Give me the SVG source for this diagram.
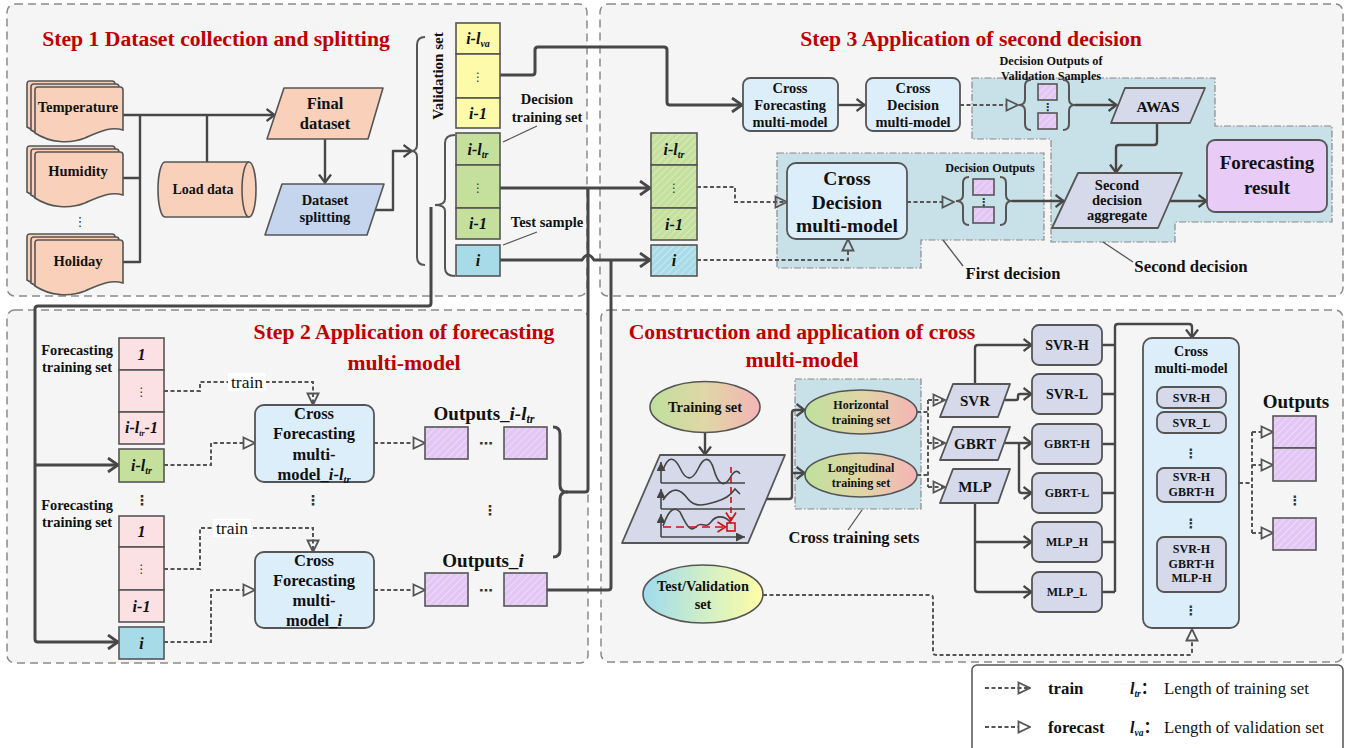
<svg xmlns="http://www.w3.org/2000/svg" width="1352" height="748" viewBox="0 0 1352 748">
<style>
.pn{fill:#f5f5f5;stroke:#8a8a8a;stroke-width:1.5;stroke-dasharray:8 5}
.t{font-family:"Liberation Serif",serif;font-weight:bold;fill:#111;text-anchor:middle}
.r{font-family:"Liberation Serif",serif;fill:#111}
.ttl{font-family:"Liberation Serif",serif;font-weight:bold;fill:#c00000;font-size:21.7px;text-anchor:middle}
.ci{font-family:"Liberation Serif",serif;font-weight:bold;font-style:italic;fill:#111;text-anchor:middle;font-size:16px}
.dt{font-family:"DejaVu Sans",sans-serif;fill:#333;text-anchor:middle}
.ln{fill:none;stroke:#474747;stroke-width:3;stroke-linejoin:round}
.ln2{fill:none;stroke:#474747;stroke-width:2.4;stroke-linejoin:round}
.ds{fill:none;stroke:#555;stroke-width:2;stroke-dasharray:4 2.5}
.bx{stroke:#555;stroke-width:1.6}
.rg{fill:#c8e0e7;stroke:#8a8a8a;stroke-width:1.2;stroke-dasharray:7 2 1.5 2}
.br{fill:none;stroke:#555;stroke-width:2}
.ld{fill:none;stroke:#555;stroke-width:1.3}
.peach{fill:#f9d1ba;stroke:#555;stroke-width:1.6}
.lav{fill:#d5d9e9;stroke:#555;stroke-width:1.8;stroke-linejoin:round}
.lb{fill:#ddeefb;stroke:#555;stroke-width:1.8}
</style>
<defs>
<marker id="ch" viewBox="0 0 12 16" refX="11" refY="8" markerWidth="12" markerHeight="16" markerUnits="userSpaceOnUse" orient="auto"><path d="M1,1 L11,8 L1,15" fill="none" stroke="#474747" stroke-width="2.8"/></marker>
<marker id="chs" viewBox="0 0 10 14" refX="9.5" refY="7" markerWidth="10" markerHeight="14" markerUnits="userSpaceOnUse" orient="auto"><path d="M1,1 L9,7 L1,13" fill="none" stroke="#474747" stroke-width="2.3"/></marker>
<marker id="fc" viewBox="0 0 14 14" refX="13" refY="7" markerWidth="14" markerHeight="14" markerUnits="userSpaceOnUse" orient="auto"><path d="M1.5,1.5 L13,7 L1.5,12.5 Z" fill="#f5f5f5" stroke="#555" stroke-width="1.8"/></marker>
<marker id="fcb" viewBox="0 0 14 14" refX="13" refY="7" markerWidth="14" markerHeight="14" markerUnits="userSpaceOnUse" orient="auto"><path d="M1.5,1.5 L13,7 L1.5,12.5 Z" fill="#c8e0e7" stroke="#555" stroke-width="1.8"/></marker>
<marker id="fcw" viewBox="0 0 14 14" refX="13" refY="7" markerWidth="14" markerHeight="14" markerUnits="userSpaceOnUse" orient="auto"><path d="M1.5,1.5 L13,7 L1.5,12.5 Z" fill="#fff" stroke="#555" stroke-width="1.8"/></marker>
<marker id="tr" viewBox="0 0 14 14" refX="13" refY="7" markerWidth="14" markerHeight="14" markerUnits="userSpaceOnUse" orient="auto"><path d="M1.5,1.5 L13,7 L1.5,12.5 Z" fill="none" stroke="#555" stroke-width="1.8"/></marker>
<marker id="ax" viewBox="0 0 10 10" refX="10" refY="5" markerWidth="10" markerHeight="9" markerUnits="userSpaceOnUse" orient="auto"><path d="M0,0 L10,5 L0,10 Z" fill="#444"/></marker>
<marker id="rch" viewBox="0 0 10 12" refX="9.5" refY="6" markerWidth="10" markerHeight="12" markerUnits="userSpaceOnUse" orient="auto"><path d="M1,1 L9,6 L1,11" fill="none" stroke="#d01010" stroke-width="1.6"/></marker>
<pattern id="hp" width="5" height="5" patternUnits="userSpaceOnUse" patternTransform="rotate(45)"><rect width="5" height="5" fill="#e2c6f3"/><line x1="0" y1="0" x2="0" y2="5" stroke="#f3e6fa" stroke-width="1.4"/></pattern>
<pattern id="hg" width="5" height="5" patternUnits="userSpaceOnUse" patternTransform="rotate(45)"><rect width="5" height="5" fill="#c4e09c"/><line x1="0" y1="0" x2="0" y2="5" stroke="#e3f0cf" stroke-width="1.4"/></pattern>
<pattern id="hc" width="5" height="5" patternUnits="userSpaceOnUse" patternTransform="rotate(45)"><rect width="5" height="5" fill="#a8dbe8"/><line x1="0" y1="0" x2="0" y2="5" stroke="#d3eef5" stroke-width="1.4"/></pattern>
<linearGradient id="gt" x1="0" y1="0" x2="1" y2="0"><stop offset="0" stop-color="#bfe09c"/><stop offset="0.5" stop-color="#e0d6a6"/><stop offset="1" stop-color="#f5b4b6"/></linearGradient>
<linearGradient id="gv" x1="0" y1="0" x2="1" y2="0"><stop offset="0" stop-color="#9fdaee"/><stop offset="0.5" stop-color="#cfeec8"/><stop offset="1" stop-color="#fffda6"/></linearGradient>
<path id="doc" d="M3,0 L85,0 Q88,0 88,3 L88,43 C75,39 64,45 50,51 C35,57 15,56 0,46 L0,3 Q0,0 3,0 Z"/>
</defs>

<!-- panels -->
<rect class="pn" x="7" y="4" width="580" height="292" rx="8"/>
<rect class="pn" x="600" y="4" width="743" height="292" rx="8"/>
<rect class="pn" x="7" y="310" width="581" height="353" rx="8"/>
<rect class="pn" x="601" y="310" width="742" height="352" rx="8"/>

<text class="ttl" x="216" y="46">Step 1 Dataset collection and splitting</text>
<text class="ttl" x="971" y="46">Step 3 Application of second decision</text>
<text class="ttl" x="404" y="339">Step 2 Application of forecasting</text>
<text class="ttl" x="404" y="370">multi-model</text>
<text class="ttl" x="802" y="339">Construction and application of cross</text>
<text class="ttl" x="802" y="367">multi-model</text>

<!-- regions -->
<polygon class="rg" points="777,153 1044,153 1044,240 921,240 921,268 777,268"/>
<polygon class="rg" points="972,78 1215,78 1215,126 1332,126 1332,222 1175,222 1175,242 1051,242 1051,139 972,139"/>
<rect class="rg" x="795" y="379" width="126" height="130"/>

<!-- connectors -->
<g id="connectors">
<path class="ln2" d="M123,115 L275,115" marker-end="url(#chs)"/>
<path class="ln2" d="M140,115 L140,262 L123,262 M123,178 L140,178 M207,115 L207,162"/>
<path class="ln2" d="M325,139 L325,183" marker-end="url(#chs)"/>
<path class="ln2" d="M375,210 L393,210 L393,151 L412,151" marker-end="url(#chs)"/>
<path class="ln" d="M431,207 L431,303 Q431,306 428,306 L38,306 Q35,306 35,309 L35,639 Q35,642 38,642 L118,642" marker-end="url(#ch)"/>
<path class="ln" d="M35,465 L118,465" marker-end="url(#ch)"/>
<path class="ln" d="M500,75 L532,75 Q535,75 535,72 L535,50 Q535,47 538,47 L664,47 Q667,47 667,50 L667,102 Q667,105 670,105 L742,105" marker-end="url(#ch)"/>
<path class="ln" d="M500,188 L650,188" marker-end="url(#ch)"/>
<path class="ln" d="M566,492 L585,492 Q588,492 588,489 L588,188"/>
<path class="ln" d="M500,260 L582,260 Q588,250 594,260 L650,260" marker-end="url(#ch)"/>
<path class="ln" d="M547,590 L608,590 Q611,590 611,587 L611,260"/>
<path class="ln2" d="M838,105 L865,105" marker-end="url(#chs)"/>
<path class="ds" d="M960,105 L1018,105" marker-end="url(#fcb)"/>
<path class="ln2" d="M1075,105 L1117,105" marker-end="url(#chs)"/>
<path class="ln2" d="M1157,123 L1157,142 Q1157,145 1154,145 L1119,145 Q1116,145 1116,148 L1116,173" marker-end="url(#chs)"/>
<path class="ln2" d="M1170,201 L1207,201" marker-end="url(#chs)"/>
<path class="ln2" d="M1012,201 L1064,201" marker-end="url(#chs)"/>
<path class="ds" d="M697,187 L735,187 L735,202 L787,202" marker-end="url(#tr)"/>
<path class="ds" d="M697,260 L848,260 L848,239" marker-end="url(#fcb)"/>
<path class="ds" d="M907,202 L954,202" marker-end="url(#fcb)"/>
<!-- step 2 dashed -->
<path class="ds" d="M164,391 L200,391 L200,382 L313,382 L313,405" marker-end="url(#tr)"/>
<path class="ds" d="M164,465 L211,465 L211,443 L255,443" marker-end="url(#fc)"/>
<path class="ds" d="M164,569 L200,569 L200,528 L313,528 L313,552" marker-end="url(#tr)"/>
<path class="ds" d="M164,642 L211,642 L211,590 L255,590" marker-end="url(#fc)"/>
<path class="ds" d="M374,443 L425,443" marker-end="url(#fc)"/>
<path class="ds" d="M374,590 L425,590" marker-end="url(#fc)"/>
<!-- construction -->
<path class="ln2" d="M705,433 L705,455" marker-end="url(#chs)"/>
<path class="ln2" d="M767,499 L789,499 Q792,499 792,496 L792,413 Q792,410 795,410 L805,410" marker-end="url(#chs)"/>
<path class="ln2" d="M792,473 L805,473" marker-end="url(#chs)"/>
<path class="ds" d="M917,412 L928,412 M917,475 L928,475 M928,400 L928,487"/>
<path class="ds" d="M928,400 L945,400" marker-end="url(#tr)"/>
<path class="ds" d="M928,443 L945,443" marker-end="url(#tr)"/>
<path class="ds" d="M928,487 L945,487" marker-end="url(#tr)"/>
<path class="ln2" d="M975,384 L975,348 Q975,345 978,345 L1032,345" marker-end="url(#chs)"/>
<path class="ln2" d="M1005,400 L1016,400 Q1018,400 1018,398 L1018,396 Q1018,394 1020,394 L1032,394" marker-end="url(#chs)"/>
<path class="ln2" d="M1005,443 L1032,443" marker-end="url(#chs)"/>
<path class="ln2" d="M1019,443 L1019,490 Q1019,493 1022,493 L1032,493" marker-end="url(#chs)"/>
<path class="ln2" d="M975,503 L975,589 Q975,592 978,592 L1032,592" marker-end="url(#chs)"/>
<path class="ln2" d="M975,542 L1032,542" marker-end="url(#chs)"/>
<path class="ln2" d="M1102,345 L1115,345 M1102,394 L1115,394 M1102,444 L1115,444 M1102,493 L1115,493 M1102,542 L1115,542 M1102,592 L1115,592"/>
<path class="ln2" d="M1115,592 L1115,327 Q1115,324 1118,324 L1189,324 Q1192,324 1192,327 L1192,338" marker-end="url(#chs)"/>
<path class="ds" d="M1239,483 L1252,483 M1252,432 L1252,533"/>
<path class="ds" d="M1252,432 L1273,432" marker-end="url(#fc)"/>
<path class="ds" d="M1252,465 L1273,465" marker-end="url(#fc)"/>
<path class="ds" d="M1252,533 L1273,533" marker-end="url(#fc)"/>
<path class="ds" d="M763,595 L930,595 Q933,595 933,598 L933,652 Q933,655 936,655 L1189,655 Q1192,655 1192,652 L1192,629" marker-end="url(#fc)"/>
</g>

<!-- Step 1 nodes -->
<g id="temperature">
<use href="#doc" x="27" y="81" class="peach"/><use href="#doc" x="31" y="84" class="peach"/><use href="#doc" x="35" y="87" class="peach"/>
<text class="t" x="78" y="112" font-size="14.5">Temperature</text>
</g>
<g id="humidity">
<use href="#doc" x="27" y="146" class="peach"/><use href="#doc" x="31" y="149" class="peach"/><use href="#doc" x="35" y="152" class="peach"/>
<text class="t" x="78" y="176" font-size="14.5">Humidity</text>
</g>
<text class="dt" x="80" y="226" font-size="13">⋮</text>
<g id="holiday">
<use href="#doc" x="27" y="234" class="peach"/><use href="#doc" x="31" y="237" class="peach"/><use href="#doc" x="35" y="240" class="peach"/>
<text class="t" x="78" y="266" font-size="14.5">Holiday</text>
</g>
<g id="loaddata">
<path class="peach" d="M165,162 L249,162 A7,27.5 0 0 1 249,217 L165,217 A7,27.5 0 0 1 165,162 Z"/>
<path class="peach" fill="none" d="M249,162 A7,27.5 0 0 0 249,217"/>
<text class="t" x="203" y="194" font-size="14">Load data</text>
</g>
<g id="finaldataset">
<polygon class="peach" stroke-linejoin="round" points="284,88 383,88 368,139 267,139"/>
<text class="t" x="325" y="109" font-size="16.5">Final</text>
<text class="t" x="325" y="129" font-size="16.5">dataset</text>
</g>
<g id="datasetsplitting">
<polygon fill="#c5d5ee" stroke="#555" stroke-width="1.6" stroke-linejoin="round" points="282,184 384,184 367,235 265,235"/>
<text class="t" x="325" y="205" font-size="14.5">Dataset</text>
<text class="t" x="325" y="222" font-size="14.5">splitting</text>
</g>

<!-- sets column -->
<g id="validationset">
<rect class="bx" fill="#fdfaa9" x="456" y="23" width="44" height="31"/>
<rect class="bx" fill="#fdfaa9" x="456" y="54" width="44" height="44"/>
<rect class="bx" fill="#fdfaa9" x="456" y="98" width="44" height="30"/>
<text class="ci" x="478" y="44">i-l<tspan font-size="10" dy="3">va</tspan></text>
<text class="dt" x="478" y="81" font-size="12">⋮</text>
<text class="ci" x="478" y="119">i-1</text>
<path class="br" d="M425,37 Q417,37 417,45 L417,145 Q417,151 411,151 Q417,151 417,157 L417,257 Q417,265 425,265"/>
<text class="t" transform="translate(443,76) rotate(-90)" font-size="15">Validation set</text>
</g>
<g id="decisiontrainingset">
<rect class="bx" fill="#c4e09c" x="456" y="133" width="44" height="32"/>
<rect class="bx" fill="#c4e09c" x="456" y="165" width="44" height="43"/>
<rect class="bx" fill="#c4e09c" x="456" y="208" width="44" height="31"/>
<text class="ci" x="478" y="155">i-l<tspan font-size="10" dy="3">tr</tspan></text>
<text class="dt" x="478" y="192" font-size="12">⋮</text>
<text class="ci" x="478" y="229">i-1</text>
<path class="br" d="M455,135 Q445,135 445,143 L445,199 Q445,205 435,205 Q445,205 445,211 L445,268 Q445,276 455,276"/>
<text class="t" x="547" y="104" font-size="14.5">Decision</text>
<text class="t" x="547" y="122" font-size="14.5">training set</text>
<path class="ld" d="M503,142 L537,126"/>
</g>
<g id="testsample">
<rect class="bx" fill="#a8dbe8" x="456" y="245" width="44" height="31"/>
<text class="ci" x="478" y="266" font-size="17">i</text>
<text class="t" x="547" y="227" font-size="14.5">Test sample</text>
<path class="ld" d="M503,245 L537,232"/>
</g>

<!-- Step 3 -->
<g id="hatchedsets">
<rect class="bx" fill="url(#hg)" x="651" y="133" width="46" height="32"/>
<rect class="bx" fill="url(#hg)" x="651" y="165" width="46" height="43"/>
<rect class="bx" fill="url(#hg)" x="651" y="208" width="46" height="32"/>
<rect class="bx" fill="url(#hc)" x="651" y="245" width="46" height="31"/>
<text class="ci" x="674" y="155">i-l<tspan font-size="10" dy="3">tr</tspan></text>
<text class="dt" x="674" y="192" font-size="12">⋮</text>
<text class="ci" x="674" y="230">i-1</text>
<text class="ci" x="674" y="266" font-size="17">i</text>
</g>
<g id="crossforecasting3">
<rect class="lb" x="743" y="78" width="95" height="53" rx="7"/>
<text class="t" x="790" y="93" font-size="14.4">Cross</text>
<text class="t" x="790" y="110" font-size="14.4">Forecasting</text>
<text class="t" x="790" y="127" font-size="14.4">multi-model</text>
</g>
<g id="crossdecision3">
<rect class="lb" x="866" y="78" width="94" height="53" rx="7"/>
<text class="t" x="913" y="93" font-size="14.4">Cross</text>
<text class="t" x="913" y="110" font-size="14.4">Decision</text>
<text class="t" x="913" y="127" font-size="14.4">multi-model</text>
</g>
<g id="validationoutputs">
<text class="t" x="1051" y="65" font-size="12.2">Decision Outputs of</text>
<text class="t" x="1051" y="80" font-size="12.2">Validation Samples</text>
<path class="br" d="M1031,80 Q1025,80 1025,86 L1025,99 Q1025,105 1019,105 Q1025,105 1025,111 L1025,124 Q1025,130 1031,130"/>
<rect class="bx" fill="url(#hp)" x="1038" y="84" width="19" height="16"/>
<rect class="bx" fill="url(#hp)" x="1038" y="113" width="19" height="16"/>
<text class="dt" x="1047.5" y="111" font-size="11" font-weight="bold">⋮</text>
<path class="br" d="M1063,80 Q1069,80 1069,86 L1069,99 Q1069,105 1075,105 Q1069,105 1069,111 L1069,124 Q1069,130 1063,130"/>
</g>
<g id="awas">
<polygon class="lav" points="1125,88 1205,88 1190,123 1111,123"/>
<text class="t" x="1158" y="112" font-size="15.5">AWAS</text>
</g>
<g id="crossdecisionbig">
<rect class="lb" x="787" y="163" width="120" height="76" rx="9"/>
<text class="t" x="847" y="185" font-size="19.5">Cross</text>
<text class="t" x="847" y="209" font-size="19.5">Decision</text>
<text class="t" x="847" y="232" font-size="19.5">multi-model</text>
</g>
<g id="decisionoutputs">
<text class="t" x="990" y="172" font-size="12.2">Decision Outputs</text>
<path class="br" d="M969,177 Q963,177 963,183 L963,195 Q963,201 956,201 Q963,201 963,207 L963,219 Q963,225 969,225"/>
<rect class="bx" fill="url(#hp)" x="973" y="179" width="21" height="16"/>
<rect class="bx" fill="url(#hp)" x="973" y="207" width="21" height="16"/>
<text class="dt" x="983.5" y="206" font-size="11" font-weight="bold">⋮</text>
<path class="br" d="M1000,177 Q1006,177 1006,183 L1006,195 Q1006,201 1012,201 Q1006,201 1006,207 L1006,219 Q1006,225 1000,225"/>
</g>
<g id="secondaggregate">
<polygon class="lav" points="1078,173 1182,173 1158,228 1052,228"/>
<text class="t" x="1117" y="190" font-size="14.5">Second</text>
<text class="t" x="1117" y="205" font-size="14.5">decision</text>
<text class="t" x="1117" y="220" font-size="14.5">aggregate</text>
</g>
<g id="forecastingresult">
<rect fill="#e8cbf7" stroke="#555" stroke-width="1.8" x="1207" y="140" width="120" height="72" rx="8"/>
<text class="t" x="1267" y="169" font-size="19">Forecasting</text>
<text class="t" x="1267" y="194" font-size="19">result</text>
</g>
<g id="labels3">
<path class="ld" d="M943,240 L963,266"/>
<text class="t" x="1013" y="279" font-size="16.5">First decision</text>
<path class="ld" d="M1103,242 L1133,262"/>
<text class="t" x="1191" y="272" font-size="16.8">Second decision</text>
</g>

<!-- Step 2 -->
<g id="ftset1">
<text class="t" x="77" y="355" font-size="14.4">Forecasting</text>
<text class="t" x="77" y="372" font-size="14.4">training set</text>
<rect class="bx" fill="#fbe0e4" x="119" y="338" width="45" height="32"/>
<rect class="bx" fill="#fbe0e4" x="119" y="370" width="45" height="42"/>
<rect class="bx" fill="#fbe0e4" x="119" y="412" width="45" height="32"/>
<text class="ci" x="141.5" y="360">1</text>
<text class="dt" x="141.5" y="396" font-size="12">⋮</text>
<text class="ci" x="141.5" y="433" font-size="13">i-l<tspan font-size="8" dy="3">tr</tspan><tspan dy="-3">-1</tspan></text>
</g>
<g id="cell_iltr">
<rect class="bx" fill="#c4e09c" x="119" y="449" width="45" height="33"/>
<text class="ci" x="141.5" y="471">i-l<tspan font-size="10" dy="3">tr</tspan></text>
</g>
<text class="dt" x="142" y="505" font-size="14" font-weight="bold">⋮</text>
<g id="ftset2">
<text class="t" x="77" y="510" font-size="14.4">Forecasting</text>
<text class="t" x="77" y="527" font-size="14.4">training set</text>
<rect class="bx" fill="#fbe0e4" x="119" y="516" width="45" height="31"/>
<rect class="bx" fill="#fbe0e4" x="119" y="547" width="45" height="43"/>
<rect class="bx" fill="#fbe0e4" x="119" y="590" width="45" height="32"/>
<text class="ci" x="141.5" y="537">1</text>
<text class="dt" x="141.5" y="573" font-size="12">⋮</text>
<text class="ci" x="141.5" y="612" font-size="14">i-1</text>
</g>
<g id="cell_i">
<rect class="bx" fill="#a8dbe8" x="119" y="627" width="45" height="32"/>
<text class="ci" x="141.5" y="649" font-size="17">i</text>
</g>
<g id="trainlabels">
<rect x="228" y="373" width="38" height="18" fill="#fff"/>
<text class="r" x="247" y="388" font-size="17.5" text-anchor="middle">train</text>
<rect x="213" y="519" width="38" height="18" fill="#fff"/>
<text class="r" x="232" y="534" font-size="17.5" text-anchor="middle">train</text>
</g>
<g id="crossforecasting_iltr">
<rect class="lb" x="255" y="405" width="119" height="77" rx="9"/>
<text class="t" x="314" y="419" font-size="16.5">Cross</text>
<text class="t" x="314" y="439" font-size="16.5">Forecasting</text>
<text class="t" x="314" y="460" font-size="16.5">multi-</text>
<text class="t" x="314" y="480" font-size="16.5">model_<tspan font-style="italic">i-l</tspan><tspan font-style="italic" font-size="10.5" dy="3">tr</tspan></text>
</g>
<text class="dt" x="313" y="505" font-size="14" font-weight="bold">⋮</text>
<g id="crossforecasting_i">
<rect class="lb" x="255" y="552" width="119" height="76" rx="9"/>
<text class="t" x="314" y="566" font-size="16.5">Cross</text>
<text class="t" x="314" y="586" font-size="16.5">Forecasting</text>
<text class="t" x="314" y="606" font-size="16.5">multi-</text>
<text class="t" x="314" y="626" font-size="16.5">model_<tspan font-style="italic">i</tspan></text>
</g>
<g id="outputs_iltr">
<text class="t" x="484" y="420" font-size="19">Outputs_<tspan font-style="italic">i-l</tspan><tspan font-style="italic" font-size="12" dy="3">tr</tspan></text>
<rect class="bx" fill="url(#hp)" x="425" y="427" width="43" height="32"/>
<text class="dt" x="486" y="448" font-size="14" font-weight="bold">⋯</text>
<rect class="bx" fill="url(#hp)" x="504" y="427" width="43" height="32"/>
</g>
<text class="dt" x="490" y="515" font-size="14" font-weight="bold">⋮</text>
<g id="outputs_i">
<text class="t" x="483" y="567" font-size="19">Outputs_<tspan font-style="italic">i</tspan></text>
<rect class="bx" fill="url(#hp)" x="425" y="573" width="43" height="33"/>
<text class="dt" x="486" y="595" font-size="14" font-weight="bold">⋯</text>
<rect class="bx" fill="url(#hp)" x="504" y="573" width="43" height="33"/>
</g>
<path class="ln" d="M553,427 Q560,427 560,434 L560,485 Q560,492 567,492 Q560,492 560,499 L560,550 Q560,557 553,557"/>

<!-- Construction -->
<g id="trainingset">
<ellipse cx="705" cy="407" rx="55" ry="25.5" fill="url(#gt)" stroke="#555" stroke-width="1.6"/>
<text class="t" x="705" y="412" font-size="14.5">Training set</text>
</g>
<g id="crossplot">
<polygon class="lav" points="660,455 785,455 748,543 622,543"/>
<path d="M661,483 L745,483 M661,509 L745,509 M661,537 L745,537" stroke="#444" stroke-width="1.6" marker-end="url(#ax)"/>
<path d="M661,483 L661,462" stroke="#444" stroke-width="1.6" marker-end="url(#ax)"/>
<path d="M661,509 L661,489" stroke="#444" stroke-width="1.6" marker-end="url(#ax)"/>
<path d="M661,537 L661,514" stroke="#444" stroke-width="1.6" marker-end="url(#ax)"/>
<path d="M663,470 C668,456 674,456 680,468 C686,481 692,481 698,469 C704,456 710,456 714,470 C718,484 724,488 730,478 C734,470 738,470 740,474" fill="none" stroke="#444" stroke-width="1.6"/>
<path d="M663,500 C672,486 680,488 688,499 C695,508 705,505 715,502 C725,499 730,496 735,489 L740,494" fill="none" stroke="#444" stroke-width="1.6"/>
<path d="M663,526 C668,512 673,505 680,512 C686,524 690,533 696,527 C701,520 705,530 711,522 C716,515 725,515 731,523" fill="none" stroke="#444" stroke-width="1.6"/>
<path d="M731,467 L731,521" stroke="#d01010" stroke-width="1.6" stroke-dasharray="6 4" marker-end="url(#rch)"/>
<path d="M663,527 L726,527" stroke="#d01010" stroke-width="1.6" stroke-dasharray="8 5" marker-end="url(#rch)"/>
<rect x="727" y="523" width="8" height="8" fill="none" stroke="#d01010" stroke-width="1.6"/>
</g>
<g id="horizontalset">
<ellipse cx="861" cy="412" rx="56" ry="22" fill="url(#gt)" stroke="#555" stroke-width="1.6"/>
<text class="t" x="861" y="409" font-size="12">Horizontal</text>
<text class="t" x="861" y="424" font-size="12">training set</text>
</g>
<g id="longitudinalset">
<ellipse cx="861" cy="475" rx="56" ry="22" fill="url(#gt)" stroke="#555" stroke-width="1.6"/>
<text class="t" x="861" y="472" font-size="12">Longitudinal</text>
<text class="t" x="861" y="487" font-size="12">training set</text>
</g>
<g id="crosstrainingsets">
<path class="ld" d="M862,510 L848,530"/>
<text class="t" x="854" y="543" font-size="16.5">Cross training sets</text>
</g>
<g id="testvalidation">
<ellipse cx="703" cy="594" rx="60" ry="29" fill="url(#gv)" stroke="#555" stroke-width="1.6"/>
<text class="t" x="703" y="591" font-size="14.3">Test/Validation</text>
<text class="t" x="703" y="609" font-size="14.3">set</text>
</g>
<g id="svr"><polygon class="lav" points="953,384 1010,384 998,417 940,417"/><text class="t" x="975" y="406" font-size="15">SVR</text></g>
<g id="gbrt"><polygon class="lav" points="953,427 1010,427 998,460 940,460"/><text class="t" x="975" y="449" font-size="15">GBRT</text></g>
<g id="mlp"><polygon class="lav" points="953,469 1010,469 998,503 940,503"/><text class="t" x="975" y="492" font-size="15">MLP</text></g>
<g id="svr_h"><rect class="lav" x="1032" y="325" width="70" height="40" rx="7"/><text class="t" x="1067" y="350" font-size="14">SVR-H</text></g>
<g id="svr_l"><rect class="lav" x="1032" y="374" width="70" height="40" rx="7"/><text class="t" x="1067" y="399" font-size="14">SVR-L</text></g>
<g id="gbrt_h"><rect class="lav" x="1032" y="424" width="70" height="40" rx="7"/><text class="t" x="1067" y="448" font-size="12">GBRT-H</text></g>
<g id="gbrt_l"><rect class="lav" x="1032" y="473" width="70" height="40" rx="7"/><text class="t" x="1067" y="497" font-size="12">GBRT-L</text></g>
<g id="mlp_h"><rect class="lav" x="1032" y="522" width="70" height="40" rx="7"/><text class="t" x="1067" y="546" font-size="12">MLP_H</text></g>
<g id="mlp_l"><rect class="lav" x="1032" y="572" width="70" height="40" rx="7"/><text class="t" x="1067" y="596" font-size="12">MLP_L</text></g>
<g id="crossmultimodel">
<rect class="lb" x="1143" y="338" width="96" height="290" rx="9"/>
<text class="t" x="1191" y="356" font-size="14">Cross</text>
<text class="t" x="1191" y="373" font-size="14">multi-model</text>
<rect class="lav" x="1157" y="387" width="69" height="21" rx="7"/>
<text class="t" x="1191.5" y="402" font-size="12">SVR-H</text>
<rect class="lav" x="1157" y="412" width="69" height="21" rx="7"/>
<text class="t" x="1191.5" y="427" font-size="12">SVR_L</text>
<text class="dt" x="1191" y="458" font-size="13" font-weight="bold">⋮</text>
<rect class="lav" x="1157" y="468" width="69" height="34" rx="7"/>
<text class="t" x="1191.5" y="481" font-size="12">SVR-H</text>
<text class="t" x="1191.5" y="496" font-size="12">GBRT-H</text>
<text class="dt" x="1191" y="528" font-size="13" font-weight="bold">⋮</text>
<rect class="lav" x="1157" y="537" width="69" height="55" rx="7"/>
<text class="t" x="1191.5" y="553" font-size="12">SVR-H</text>
<text class="t" x="1191.5" y="568" font-size="12">GBRT-H</text>
<text class="t" x="1191.5" y="582" font-size="12">MLP-H</text>
<text class="dt" x="1191" y="615" font-size="13" font-weight="bold">⋮</text>
</g>
<g id="outputs">
<text class="t" x="1296" y="408" font-size="19">Outputs</text>
<rect class="bx" fill="url(#hp)" x="1273" y="416" width="43" height="32"/>
<rect class="bx" fill="url(#hp)" x="1273" y="448" width="43" height="33"/>
<text class="dt" x="1295" y="505" font-size="13" font-weight="bold">⋮</text>
<rect class="bx" fill="url(#hp)" x="1273" y="518" width="43" height="32"/>
</g>

<!-- legend -->
<g id="legend">
<rect x="972" y="665" width="371" height="92" rx="5" fill="#fff" stroke="#555" stroke-width="1.5"/>
<path class="ds" d="M985,688 L1030,688" marker-end="url(#tr)"/>
<path class="ds" d="M985,727 L1030,727" marker-end="url(#fcw)"/>
<text class="r" x="1048" y="694" font-size="16.8" font-weight="bold">train</text>
<text class="r" x="1048" y="733" font-size="16.8" font-weight="bold">forecast</text>
<text class="r" x="1130" y="694" font-size="16" font-weight="bold" font-style="italic">l<tspan font-size="9.5" dy="3">tr</tspan><tspan dy="-3" font-style="normal" font-family="'Liberation Serif','Noto Sans CJK SC',serif">：</tspan></text>
<text class="r" x="1164" y="694" font-size="16.8">Length of training set</text>
<text class="r" x="1130" y="733" font-size="16" font-weight="bold" font-style="italic">l<tspan font-size="9.5" dy="3">va</tspan><tspan dy="-3" font-style="normal" font-family="'Liberation Serif','Noto Sans CJK SC',serif">：</tspan></text>
<text class="r" x="1164" y="733" font-size="16.8">Length of validation set</text>
</g>
</svg>
